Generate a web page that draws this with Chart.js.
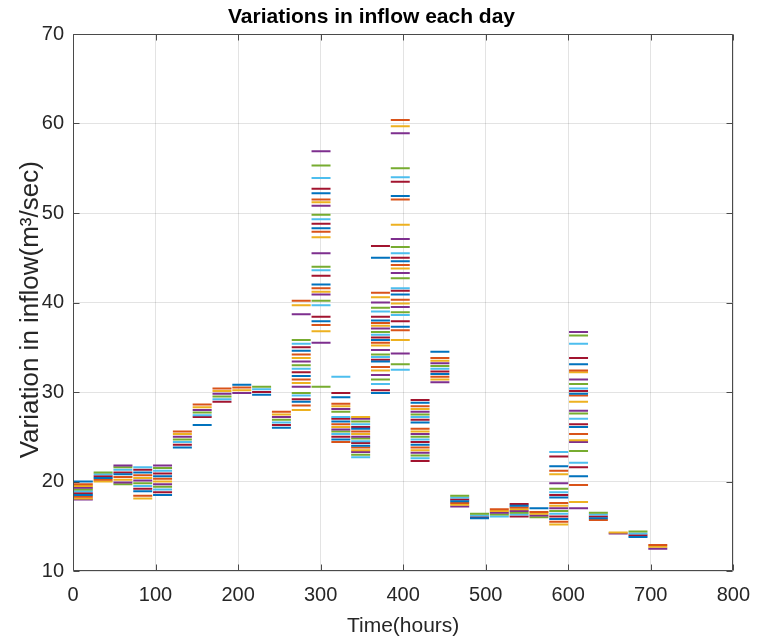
<!DOCTYPE html>
<html>
<head>
<meta charset="utf-8">
<script src="https://cdn.jsdelivr.net/npm/chart.js@4.4.1/dist/chart.umd.min.js"></script>
<style>
  html, body { margin: 0; padding: 0; background: #fff; }
  #wrap { width: 762px; height: 644px; }
</style>
</head>
<body>
<div id="wrap"><canvas id="chart" width="762" height="644"></canvas></div>
<script>
// hourly inflow readings drawn as one flat line across each day (hours 1..24 of the day)
const hoursPerDay = 24;

const day01 = [20.0, 19.7, 19.5, 19.3, 19.1, 18.9, 18.7, 18.5, 18.3, 18.1, 18.0];
const day02 = [21.0, 20.8, 20.6, 20.4, 20.2, 20.0];
const day03 = [21.8, 21.6, 21.3, 21.0, 20.8, 20.5, 20.2, 19.9, 19.7];
const day04 = [21.6, 21.3, 21.0, 20.7, 20.4, 20.1, 19.8, 19.5, 19.2, 18.9, 18.4, 18.1];
const day05 = [21.8, 21.5, 21.2, 20.9, 20.6, 20.3, 20.0, 19.7, 19.4, 19.1, 18.8, 18.5];
const day06 = [25.6, 25.3, 25.0, 24.7, 24.4, 24.1, 23.8];
const day07 = [28.6, 28.3, 28.0, 27.7, 27.4, 27.2, 26.3];
const day08 = [30.4, 30.1, 29.8, 29.5, 29.2, 28.9];
const day09 = [30.8, 30.5, 30.2, 29.9];
const day10 = [30.6, 30.3, 30.0, 29.7];
const day11 = [27.8, 27.5, 27.2, 26.9, 26.6, 26.3, 26.0];
const day12 = [40.2, 39.7, 38.7, 35.8, 35.4, 35.0, 34.6, 34.2, 33.8, 33.4, 33.0, 32.6, 32.2, 31.8, 31.4, 31.0, 30.6, 29.9, 29.6, 29.2, 28.9, 28.5, 28.0];
const day13 = [56.9, 55.3, 53.9, 52.7, 52.2, 51.5, 51.2, 50.8, 49.8, 49.3, 48.8, 48.3, 47.9, 47.3, 45.5, 44.0, 43.6, 43.0, 42.0, 41.6, 41.2, 40.9, 40.2, 39.7, 38.4, 37.9, 37.5, 36.8, 35.5, 30.6];
const day14 = [31.7, 29.9, 29.4, 28.7, 28.4, 28.1, 27.8, 27.2, 27.0, 26.7, 26.4, 26.1, 25.8, 25.6, 25.3, 25.0, 24.7, 24.4];
const day15 = [27.2, 27.0, 26.7, 26.4, 26.1, 25.9, 25.6, 25.3, 25.0, 24.8, 24.5, 24.3, 24.0, 23.8, 23.5, 23.3, 23.0, 22.7];
const day16 = [46.3, 45.0, 41.1, 40.6, 40.0, 39.4, 39.0, 38.4, 38.0, 37.7, 37.4, 37.1, 36.7, 36.4, 36.1, 35.8, 35.5, 35.2, 34.7, 34.2, 33.9, 33.6, 33.4, 32.8, 32.4, 31.9, 31.4, 30.9, 30.2, 29.9];
const day17 = [60.4, 59.7, 58.9, 55.0, 54.0, 53.5, 51.9, 51.5, 48.7, 47.1, 46.2, 45.5, 45.0, 44.6, 44.2, 43.8, 43.3, 42.7, 41.6, 41.3, 40.9, 40.3, 39.9, 39.5, 38.9, 38.6, 37.9, 37.3, 36.9, 35.8, 34.3, 33.1, 32.5];
const day18 = [29.1, 28.8, 28.4, 28.1, 27.8, 27.5, 27.2, 26.9, 26.6, 25.9, 25.6, 25.3, 25.0, 24.7, 24.4, 24.1, 23.8, 23.5, 23.2, 22.9, 22.6, 22.3];
const day19 = [34.5, 33.8, 33.5, 33.2, 32.9, 32.6, 32.3, 32.0, 31.7, 31.4, 31.1];
const day20 = [18.4, 18.2, 18.0, 17.8, 17.6, 17.4, 17.2];
const day21 = [16.4, 16.2, 16.0, 15.9];
const day22 = [16.9, 16.7, 16.5, 16.3, 16.1];
const day23 = [17.5, 17.3, 17.1, 16.9, 16.7, 16.5, 16.3, 16.1];
const day24 = [17.0, 16.6, 16.4, 16.2, 16.0];
const day25 = [23.3, 22.8, 21.7, 21.2, 20.8, 19.8, 19.2, 18.8, 18.5, 18.2, 17.6, 17.3, 17.0, 16.7, 16.4, 16.1, 15.8, 15.5, 15.2];
const day26 = [36.7, 36.3, 35.4, 33.8, 33.1, 32.4, 32.2, 31.4, 30.9, 30.4, 30.1, 29.8, 29.6, 28.9, 27.9, 27.6, 27.0, 26.4, 26.1, 25.3, 24.6, 24.4, 23.4, 22.1, 21.6, 20.6, 19.6, 17.7, 17.0];
const day27 = [16.5, 16.3, 16.1, 15.9, 15.7];
const day28 = [14.3, 14.2];
const day29 = [14.4, 14.2, 14.0, 13.8];
const day30 = [12.9, 12.7, 12.5];

const dailyInflow = [day01, day02, day03, day04, day05, day06, day07, day08, day09, day10,
                     day11, day12, day13, day14, day15, day16, day17, day18, day19, day20,
                     day21, day22, day23, day24, day25, day26, day27, day28, day29, day30];

const xTicks = [0, 100, 200, 300, 400, 500, 600, 700, 800];
const yTicks = [10, 20, 30, 40, 50, 60, 70];

// matlab default line colours
const lineColors = ["#0072BD", "#D95319", "#EDB120", "#7E2F8E", "#77AC30", "#4DBEEE", "#A2142F"];

const textColor = "#262626";
const axisColor = "#4a4a4a";
const sans = "'Liberation Sans', Arial, Helvetica, sans-serif";

/* one dataset per colour, segments split with null points */
function buildDatasets() {
    const groups = lineColors.map(() => []);
    let k = 0;
    dailyInflow.forEach((values, d) => {
        const start = d * hoursPerDay + 1;
        const end = d * hoursPerDay + hoursPerDay;
        values.forEach(v => {
            const g = groups[k % lineColors.length];
            g.push({ x: start, y: v }, { x: end, y: v }, { x: end, y: null });
            k++;
        });
    });
    return groups.map((data, i) => ({
        data: data,
        borderColor: lineColors[i],
        borderWidth: 2,
        pointRadius: 0,
        showLine: true,
        spanGaps: false
    }));
}

/* box round the axes with inward tick marks, like matlab */
const axesBox = {
    id: "axesBox",
    afterDatasetsDraw(chart) {
        const { ctx, chartArea: a, scales } = chart;
        const L = Math.round(a.left) + 0.5, R = Math.round(a.right) - 0.5;
        const T = Math.round(a.top) + 0.5, B = Math.round(a.bottom) - 0.5;
        const len = 6;
        ctx.save();
        ctx.strokeStyle = axisColor;
        ctx.lineWidth = 1;
        ctx.beginPath();
        ctx.rect(L, T, R - L, B - T);
        xTicks.forEach(v => {
            const px = Math.round(scales.x.getPixelForValue(v)) + 0.5;
            ctx.moveTo(px, B); ctx.lineTo(px, B - len);
            ctx.moveTo(px, T); ctx.lineTo(px, T + len);
        });
        yTicks.forEach(v => {
            const py = Math.round(scales.y.getPixelForValue(v)) + 0.5;
            ctx.moveTo(L, py); ctx.lineTo(L + len, py);
            ctx.moveTo(R, py); ctx.lineTo(R - len, py);
        });
        ctx.stroke();
        ctx.restore();
    }
};

const ctx = document.getElementById("chart").getContext("2d");
new Chart(ctx, {
    type: "scatter",
    data: { datasets: buildDatasets() },
    options: {
        responsive: false,
        animation: false,
        devicePixelRatio: 1,
        layout: { padding: { left: 0, right: 19, top: 0, bottom: 0 } },
        plugins: {
            legend: { display: false },
            tooltip: { enabled: false },
            title: {
                display: true,
                text: "Variations in inflow each day",
                color: "#000",
                font: { family: sans, size: 21, weight: "bold", lineHeight: 1.2 },
                padding: { top: 5, bottom: 3.8 }
            }
        },
        scales: {
            x: {
                type: "linear",
                min: 0,
                max: 800,
                afterBuildTicks: s => { s.ticks = xTicks.map(v => ({ value: v })); },
                afterFit: s => { s.height = 73; },
                grid: { color: "rgba(38,38,38,0.13)", drawTicks: false },
                border: { display: false },
                ticks: { color: textColor, padding: 12, font: { family: sans, size: 20 } },
                title: {
                    display: true,
                    text: "Time(hours)",
                    color: textColor,
                    font: { family: sans, size: 21, lineHeight: 1.2 },
                    padding: { top: 0, bottom: 5.4 }
                }
            },
            y: {
                type: "linear",
                min: 10,
                max: 70,
                afterBuildTicks: s => { s.ticks = yTicks.map(v => ({ value: v })); },
                afterFit: s => { s.width = 73; },
                grid: { color: "rgba(38,38,38,0.13)", drawTicks: false },
                border: { display: false },
                ticks: { color: textColor, padding: 9, font: { family: sans, size: 20 } },
                title: {
                    display: true,
                    // trailing spaces nudge the rotated label down a little, as in the original
                    text: "Variation in inflow(m³/sec)  ",
                    color: textColor,
                    font: { family: sans, size: 26, lineHeight: 1.2 },
                    padding: { top: 15, bottom: 0 }
                }
            }
        }
    },
    plugins: [axesBox]
});
</script>
</body>
</html>
